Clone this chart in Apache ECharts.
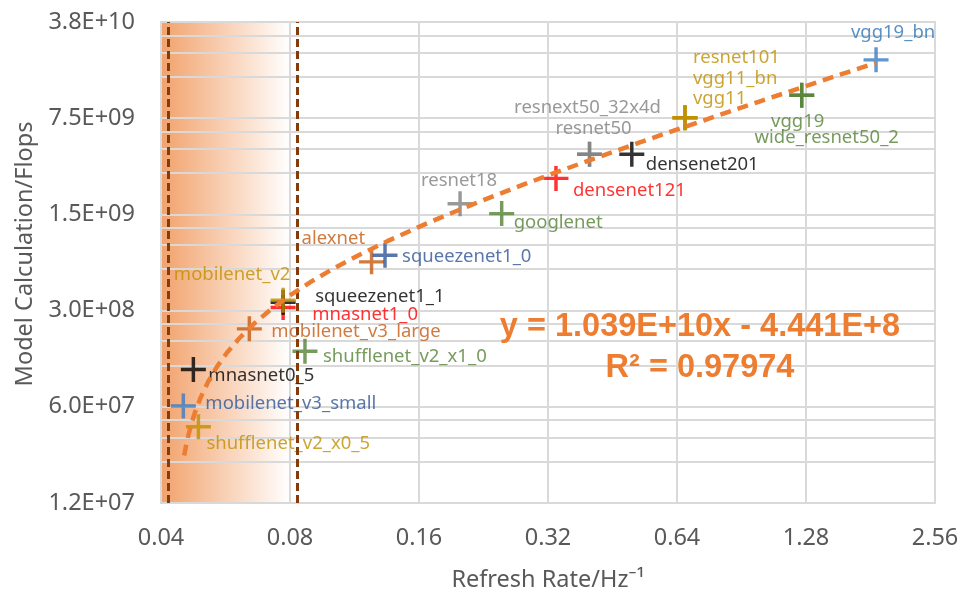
<!DOCTYPE html>
<html><head><meta charset="utf-8">
<script src="https://cdn.jsdelivr.net/npm/echarts@6/dist/echarts.min.js"></script>
<style>html,body{margin:0;padding:0;background:#fff}#c{width:968px;height:597px}</style>
</head><body><div id="c"></div>
<script>
// ---- data ----
const models = ['shufflenet_v2_x0_5','mobilenet_v3_small','mnasnet0_5','shufflenet_v2_x1_0','mobilenet_v3_large',
  'mnasnet1_0','squeezenet1_1','mobilenet_v2','alexnet','squeezenet1_0','googlenet','resnet18','densenet121',
  'resnext50_32x4d','resnet50','densenet201','resnet101','vgg11_bn','vgg11','wide_resnet50_2','vgg19','vgg19_bn'];
const refreshRate = [0.0489,0.0451,0.0476,0.0867,0.0643,0.0771,0.0771,0.0771,0.124,0.1333,0.2495,0.1995,0.334,
  0.400,0.400,0.502,0.668,0.668,0.668,1.251,1.251,1.865];
const flops = [4.3e7,6.08e7,1.12e8,1.52e8,2.21e8,3.16e8,3.45e8,3.57e8,6.78e8,7.57e8,1.52e9,1.79e9,2.74e9,
  4.11e9,4.11e9,4.11e9,7.55e9,7.55e9,7.55e9,1.10e10,1.10e10,1.99e10];
const xTickValues = [0.04,0.08,0.16,0.32,0.64,1.28,2.56];
const xTickLabels = ['0.04','0.08','0.16','0.32','0.64','1.28','2.56'];
const yTickValues = [1.2e7,6e7,3e8,1.5e9,7.5e9,3.75e10];
const yTickLabels = ['1.2E+07','6.0E+07','3.0E+08','1.5E+09','7.5E+09','3.8E+10'];
const yGridValues = [1.2e7,2.4e7,3.6e7,4.8e7,6e7,1.2e8,1.8e8,2.4e8,3e8,6e8,9e8,1.2e9,1.5e9,3e9,4.5e9,6e9,7.5e9,
  1.5e10,2.25e10,3e10,3.75e10];
const thresholdRates = [0.0417,0.0833];
const bandRange = [0.04,0.08];
const trendSlope = 1.039e10;
const trendIntercept = -4.441e8;
const trendX = [0.0453,0.0457,0.0462,0.047,0.048,0.0495,0.0515,0.054,0.057,0.061,0.066,0.072,0.08,0.09,0.1,
  0.115,0.135,0.16,0.19,0.23,0.28,0.34,0.42,0.52,0.65,0.8,1.0,1.25,1.55,1.865];
const equationText = 'y = 1.039E+10x - 4.441E+8';
const r2Text = 'R² = 0.97974';

// ---- styles (colour, label placement) ----
const BLUE='#3a7cc3', DBLUE='#2f5597', GOLD='#bf9000', GREEN='#548235', GRAY='#808080', RED='#ff0000', BROWN='#c55a11', BLACK='#000000';
const styleMap = {
  shufflenet_v2_x0_5:[GOLD,GOLD,[8,17],'left'],
  mobilenet_v3_small:[BLUE,DBLUE,[22,-2],'left'],
  mnasnet0_5:[BLACK,BLACK,[15,6],'left'],
  shufflenet_v2_x1_0:[GREEN,GREEN,[18,5],'left'],
  mobilenet_v3_large:[BROWN,BROWN,[22,3],'left'],
  mnasnet1_0:[RED,RED,[29,7],'left'],
  squeezenet1_1:[BLACK,BLACK,[32,-6],'left'],
  mobilenet_v2:[GOLD,GOLD,[-51,-25],'center'],
  alexnet:[BROWN,BROWN,[-70,-23],'left'],
  squeezenet1_0:[DBLUE,DBLUE,[17,1],'left'],
  googlenet:[GREEN,GREEN,[12,9],'left'],
  resnet18:[GRAY,GRAY,[-1,-23],'center'],
  densenet121:[RED,RED,[17,12],'left'],
  resnext50_32x4d:[GRAY,GRAY,[-2,-46],'center'],
  resnet50:[GRAY,GRAY,[4,-25],'center'],
  densenet201:[BLACK,BLACK,[14,11],'left'],
  resnet101:[GOLD,GOLD,[8,-60],'left'],
  vgg11_bn:[GOLD,GOLD,[8,-39],'left'],
  vgg11:[GOLD,GOLD,[8,-19],'left'],
  wide_resnet50_2:[GREEN,GREEN,[25,42],'center'],
  vgg19:[GREEN,GREEN,[-4,26],'center'],
  vgg19_bn:[BLUE,'#2e75b6',[17,-27],'center']
};
const PLUS = 'path://M-1.8,-13H1.8V-1.8H13V1.8H1.8V13H-1.8V1.8H-13V-1.8H-1.8Z';
const AX_FONT = '"Noto Sans", sans-serif';

function lookup(vals, labels, v){
  for (let i=0;i<vals.length;i++){ if (Math.abs(vals[i]-v)/vals[i] < 1e-3) return labels[i]; }
  return '';
}

const pointData = models.map((m,i)=>{
  const s = styleMap[m];
  return {
    name: m, value: [refreshRate[i], flops[i]],
    itemStyle: {color: s[0]},
    label: {show:true, position:'inside', offset:s[2], align:s[3], verticalAlign:'middle',
      color:s[1], fontSize:18.5, fontFamily:AX_FONT, formatter:'{b}'}
  };
});

const chart = echarts.init(document.getElementById('c'), null, {renderer:'canvas'});
chart.setOption({
  animation:false,
  backgroundColor:'#ffffff',
  grid:{left:161,right:33,top:22,bottom:91,show:true,borderColor:'#d9d9d9',borderWidth:2,backgroundColor:'transparent',z:1.5},
  xAxis:{
    type:'log', logBase:2, min:0.04, max:2.56, z:1.5,
    name:'Refresh Rate/Hz⁻¹', nameLocation:'middle', nameGap:65,
    nameTextStyle:{fontSize:23.5, fontFamily:AX_FONT, color:'#595959'},
    axisLine:{show:false},
    axisTick:{show:false, customValues:xTickValues},
    axisLabel:{customValues:xTickValues, margin:23, fontSize:23.5, fontFamily:AX_FONT, color:'#595959',
      formatter:v=>lookup(xTickValues,xTickLabels,v)},
    splitLine:{show:true, lineStyle:{color:'#d9d9d9', width:2}}
  },
  yAxis:{
    type:'log', logBase:5, min:1.2e7, max:3.75e10, z:1.5,
    axisLine:{show:false},
    axisTick:{show:false, customValues:yGridValues},
    axisLabel:{customValues:yTickValues, margin:26, fontSize:23.5, fontFamily:AX_FONT, color:'#595959',
      formatter:v=>lookup(yTickValues,yTickLabels,v)},
    splitLine:{show:true, lineStyle:{color:'#d9d9d9', width:2}}
  },
  graphic:[
    {type:'text', x:25, y:254, rotation:Math.PI/2, z:10,
      style:{text:'Model Calculation/Flops', textAlign:'center', textVerticalAlign:'middle',
        font:'23.5px "Noto Sans", sans-serif', fill:'#595959'}},
    {type:'text', x:700, y:327, z:10,
      style:{text:equationText, textAlign:'center', textVerticalAlign:'middle',
        font:'bold 32.5px "Liberation Sans", Arial, sans-serif', fill:'#ed7d31'}},
    {type:'text', x:700, y:368, z:10,
      style:{text:r2Text, textAlign:'center', textVerticalAlign:'middle',
        font:'bold 32.5px "Liberation Sans", Arial, sans-serif', fill:'#ed7d31'}}
  ],
  series:[
    {type:'line', name:'band', data:[], z:0, silent:true,
      markArea:{silent:true, z:0, label:{show:false},
        itemStyle:{color:new echarts.graphic.LinearGradient(0,0,1,0,[{offset:0,color:'#f2a26c'},{offset:1,color:'#ffffff'}])},
        data:[[{xAxis:bandRange[0]},{xAxis:bandRange[1]}]]}},
    {type:'scatter', name:'models', data:pointData, symbol:PLUS, symbolSize:25, z:3, silent:true,
      emphasis:{disabled:true}},
    {type:'line', name:'thresholds', data:[], z:4, silent:true,
      markLine:{silent:true, precision:6, symbol:['none','none'], label:{show:false},
        lineStyle:{color:'#843c0c', width:3, type:[8,4]},
        data:thresholdRates.map(v=>({xAxis:v}))}},
    {type:'line', name:'trend', data:trendX.map(x=>[x, trendSlope*x+trendIntercept]), showSymbol:false,
      symbol:'none', silent:true, z:5,
      lineStyle:{color:'#ed7d31', width:4.5, type:[11,7]}}
  ]
});
</script></body></html>
